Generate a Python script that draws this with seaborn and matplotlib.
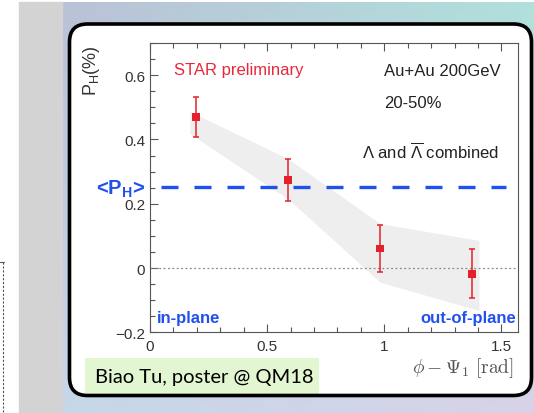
import numpy as np
import matplotlib
matplotlib.use("Agg")
import matplotlib.pyplot as plt
import seaborn as sns
from matplotlib.patches import FancyBboxPatch, Rectangle
from matplotlib.ticker import MultipleLocator

# ---- data ----
phi = [0.196, 0.589, 0.982, 1.374]
ph = [0.470, 0.273, 0.061, -0.018]
stat_err = [0.063, 0.066, 0.072, 0.076]
band_x = [0.17, 0.589, 0.982, 1.404]
band_lo = [0.418, 0.215, -0.044, -0.132]
band_hi = [0.487, 0.340, 0.138, 0.086]
mean_ph = 0.251
mean_x = [0.047, 1.521]
xticks = [0, 0.5, 1, 1.5]
xticklabels = ['0', '0.5', '1', '1.5']
yticks = [-0.2, 0, 0.2, 0.4, 0.6]
yticklabels = ['\u22120.2', '0', '0.2', '0.4', '0.6']

sns.set_theme(style='ticks')
plt.rcParams['font.family'] = ['Liberation Sans', 'DejaVu Sans']
plt.rcParams['mathtext.fontset'] = 'custom'
plt.rcParams['mathtext.rm'] = 'Liberation Sans'
plt.rcParams['mathtext.it'] = 'Liberation Sans:italic'
plt.rcParams['mathtext.bf'] = 'Liberation Sans:bold'

W, H = 534, 414
fig = plt.figure(figsize=(W / 100, H / 100), dpi=100)

# ---- slide background ----
bg = fig.add_axes([0, 0, 1, 1], zorder=0)
bg.set_xlim(0, W)
bg.set_ylim(H, 0)
bg.axis('off')
bg.add_patch(Rectangle((0, 0), W, H, color='white', zorder=0))
tl = np.array([186, 194, 214]) / 255
tr = np.array([176, 224, 220]) / 255
bl = np.array([198, 216, 232]) / 255
br = np.array([216, 210, 232]) / 255
u = np.linspace(0, 1, 60)[None, :, None]
v = np.linspace(0, 1, 60)[:, None, None]
grad = (1 - v) * ((1 - u) * tl + u * tr) + v * ((1 - u) * bl + u * br)
bg.imshow(grad, extent=(62, W, H, 3), aspect='auto', interpolation='bilinear', zorder=1)
bg.add_patch(Rectangle((19, 3), 43, H - 3, color='#d3d3d3', zorder=1))
bg.plot([3, 3], [263, H], color='#555555', lw=0.8, ls=(0, (2, 1.5)), zorder=2)
bg.plot([0, 4], [263, 263], color='#555555', lw=0.8, zorder=2)
bg.set_xlim(0, W)
bg.set_ylim(H, 0)

box = dict(boxstyle='round,pad=0,rounding_size=18')
bg.add_patch(FancyBboxPatch((69.5, 25), 462, 371.5, fc='white', ec='none', zorder=3, **box))
bg.add_patch(Rectangle((85, 359), 234, 38, fc='#e3f6d2', ec='none', zorder=4))
bg.add_patch(FancyBboxPatch((69.5, 25), 462, 371.5, fc='none', ec='black', lw=2.6, zorder=5, **box))

# ---- main plot ----
ax = fig.add_axes([150 / W, 1 - 333.3 / H, 368 / W, 289.3 / H], zorder=2)
ax.set_facecolor('white')
red = '#e3202c'
blue = '#2250ee'

ax.fill_between(band_x, band_lo, band_hi, color='#eeeeee', lw=0, zorder=1)
ax.axhline(0, color='#888888', ls=(0, (1.5, 2)), lw=0.9, zorder=2)
ax.plot(mean_x, [mean_ph, mean_ph], color=blue, lw=2.4, dashes=(5.1, 4.8), zorder=3)
ax.errorbar(phi, ph, yerr=stat_err, fmt='none', ecolor=red, elinewidth=1.1,
            capsize=2, capthick=1.1, zorder=4)
sns.scatterplot(x=phi, y=ph, marker='s', s=30, color=red, edgecolor='none',
                ax=ax, zorder=5, legend=False)

ax.set_xlim(0, np.pi / 2)
ax.set_ylim(-0.2, 0.7)
ax.set_xticks(xticks)
ax.set_xticklabels(xticklabels)
ax.set_yticks(yticks)
ax.set_yticklabels(yticklabels)
ax.xaxis.set_minor_locator(MultipleLocator(0.1))
ax.yaxis.set_minor_locator(MultipleLocator(0.05))
ax.tick_params(which='both', direction='in', top=True, right=False,
               color='#555555', width=0.8, labelcolor='#333333', labelsize=11)
ax.tick_params(which='major', length=5.8)
ax.tick_params(which='minor', length=3.6)
ax.tick_params(axis='x', pad=5)
ax.tick_params(axis='y', pad=3.5)
for s in ax.spines.values():
    s.set_color('#555555')
    s.set_linewidth(0.8)
ax.set_xlabel('')
ax.set_ylabel('')


def ftext(px, py, s, **kw):
    return fig.text(px / W, 1 - py / H, s, zorder=6, **kw)


ftext(174, 71, 'STAR preliminary', color='#e8283a', fontsize=12, va='center')
ftext(384, 71, 'Au+Au 200GeV', color='#222222', fontsize=12, va='center')
ftext(384, 103, '20-50%', color='#222222', fontsize=12, va='center')
ftext(362, 152, r'$\mathrm{\Lambda}$ and $\overline{\mathrm{\Lambda}}$ combined',
      color='#222222', fontsize=12, va='center')
ftext(157, 319, 'in-plane', color=blue, fontsize=12, fontweight='bold', va='center')
ftext(516, 319, 'out-of-plane', color=blue, fontsize=12, fontweight='bold',
      va='center', ha='right')
ftext(145, 189, r'<P$_\mathbf{H}$>', color=blue, fontsize=14.5, fontweight='bold',
      va='center', ha='right')
ftext(92, 45, r'P$_\mathregular{H}$(%)', color='#333333', fontsize=13, rotation=90,
      ha='center', va='top')
ftext(514, 368, r'$\phi - \Psi_1\ \mathrm{[rad]}$', color='#555555', fontsize=14,
      ha='right', va='center', math_fontfamily='cm')
ftext(95, 378, 'Biao Tu, poster @ QM18', color='black', fontsize=14.5,
      va='center', family=['Lato', 'DejaVu Sans'])

fig.savefig('out.png', dpi=100)
